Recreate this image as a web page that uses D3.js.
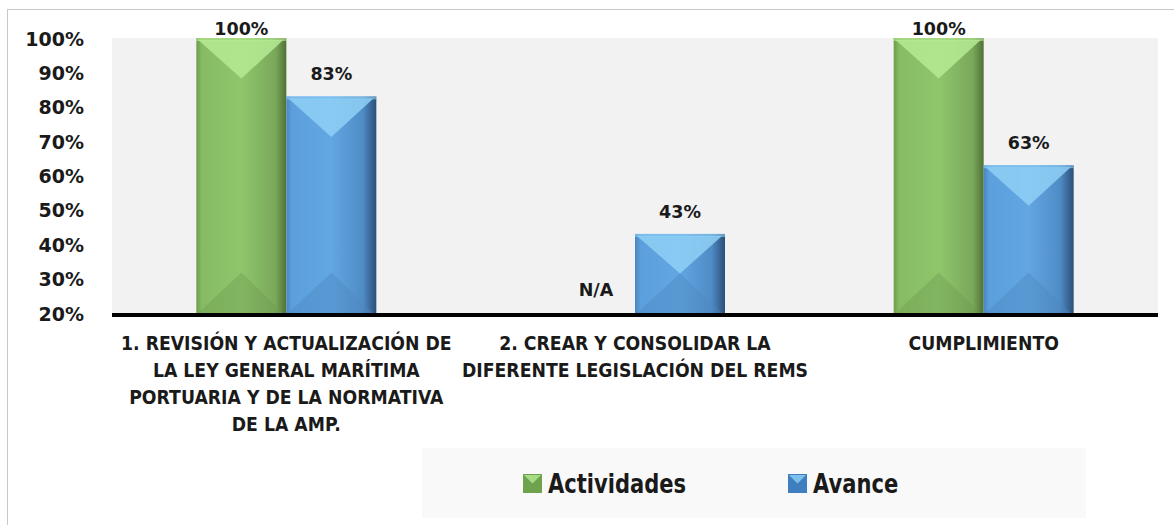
<!DOCTYPE html>
<html lang="es">
<head>
    <meta charset="UTF-8">
    <title>Cumplimiento</title>
    <script src="https://cdn.jsdelivr.net/npm/d3@7"></script>
    <style>
        body { margin: 0; background: #fff; }
        text { font-family: "DejaVu Sans", sans-serif; font-weight: bold; fill: #1a1a1a; }
    </style>
</head>
<body>
<div id="fig1"></div>
<script>
    var width = 1174;
    var height = 525;

    // data
    const categories = [
        ["1. REVISIÓN Y ACTUALIZACIÓN DE", "LA LEY GENERAL MARÍTIMA", "PORTUARIA Y DE LA NORMATIVA", "DE LA AMP."],
        ["2. CREAR Y CONSOLIDAR LA", "DIFERENTE LEGISLACIÓN DEL REMS"],
        ["CUMPLIMIENTO"]
    ];
    const series = ["Actividades", "Avance"];
    const actividades = [1.00, null, 1.00];
    const avance = [0.83, 0.43, 0.63];
    const yTicks = [0.2, 0.3, 0.4, 0.5, 0.6, 0.7, 0.8, 0.9, 1.0];
    const naLabel = "N/A";

    const margin = {top: 38, right: 16, bottom: 212, left: 112};

    var svg = d3.select("#fig1").append("svg")
        .attr("width", width)
        .attr("height", height);

    var defs = svg.append("defs");

    function sideGradient(id, stops) {
        var g = defs.append("linearGradient").attr("id", id)
            .attr("x1", "0%").attr("x2", "100%").attr("y1", "0%").attr("y2", "0%");
        stops.forEach(function (s) {
            g.append("stop").attr("offset", s[0]).attr("stop-color", s[1]);
        });
    }
    sideGradient("gGreen", [["0%", "#6e9c4e"], ["6%", "#86bb63"], ["50%", "#8fc66c"], ["88%", "#7aa85a"], ["100%", "#4f7136"]]);
    sideGradient("gBlue", [["0%", "#4a86c0"], ["6%", "#5b9fdc"], ["50%", "#62a6e2"], ["85%", "#4f8cc6"], ["100%", "#2c4f78"]]);

    const look = {
        Actividades: {fill: "url(#gGreen)", top: "#b6ea93", bottom: "#6f9c50", swatch: "#6ea24c"},
        Avance: {fill: "url(#gBlue)", top: "#8fd0f6", bottom: "#4d86bd", swatch: "#3f7fbf"}
    };

    // outer frame
    svg.append("rect")
        .attr("x", 7.5).attr("y", 9.5)
        .attr("width", width).attr("height", height)
        .attr("fill", "none")
        .attr("stroke", "#c8c8c8");

    var x0 = d3.scaleBand()
        .domain(d3.range(categories.length))
        .range([margin.left, width - margin.right]);

    var x1 = d3.scaleBand()
        .domain(series)
        .range([0, x0.bandwidth()])
        .paddingInner(0)
        .paddingOuter(0.937);

    var y = d3.scaleLinear()
        .domain([0.2, 1.0])
        .range([height - margin.bottom, margin.top]);

    // plot area
    svg.append("rect")
        .attr("x", margin.left).attr("y", margin.top)
        .attr("width", width - margin.right - margin.left)
        .attr("height", y(0.2) - margin.top)
        .attr("fill", "#f2f2f2");

    var yAxis = svg.append("g")
        .attr("transform", "translate(" + 84 + ",0)")
        .call(d3.axisLeft(y).tickValues(yTicks).tickSize(0).tickPadding(0).tickFormat(d3.format(".0%")));
    yAxis.select(".domain").remove();
    yAxis.selectAll("text")
        .attr("font-size", 19)
        .attr("font-family", null)
        .attr("fill", null)
        .attr("dy", "0.37em");

    var rows = [];
    categories.forEach(function (c, i) {
        rows.push({i: i, s: "Actividades", v: actividades[i]});
        rows.push({i: i, s: "Avance", v: avance[i]});
    });

    var bars = svg.append("g");
    rows.filter(function (d) { return d.v != null; }).forEach(function (d) {
        var bx = x0(d.i) + x1(d.s);
        var bw = x1.bandwidth();
        var top = y(d.v);
        var bot = y(0.2);
        var g = bars.append("g");
        g.append("rect")
            .attr("x", bx).attr("y", top)
            .attr("width", bw).attr("height", bot - top)
            .attr("fill", look[d.s].fill);
        var tri = Math.min(bw / 2 * 0.9, (bot - top) / 2);
        g.append("path")
            .attr("d", "M" + (bx + 2) + "," + (top + 2) + "L" + (bx + bw - 3) + "," + (top + 2) +
                "L" + (bx + bw / 2) + "," + (top + tri) + "Z")
            .attr("fill", look[d.s].top)
            .attr("opacity", 0.85);
        g.append("path")
            .attr("d", "M" + (bx + 2) + "," + bot + "L" + (bx + bw - 3) + "," + bot +
                "L" + (bx + bw / 2) + "," + (bot - tri) + "Z")
            .attr("fill", look[d.s].bottom)
            .attr("opacity", 0.4);
        g.append("rect")
            .attr("x", bx).attr("y", top)
            .attr("width", bw).attr("height", 3)
            .attr("fill", look[d.s].top)
            .attr("opacity", 0.6);

        svg.append("text")
            .attr("x", bx + bw / 2)
            .attr("y", Math.max(top - 16, 35))
            .attr("text-anchor", "middle")
            .attr("font-size", 17.5)
            .text(d3.format(".0%")(d.v));
    });

    // N/A where a value is missing
    rows.filter(function (d) { return d.v == null; }).forEach(function (d) {
        svg.append("text")
            .attr("x", x0(d.i) + x1(d.s) + x1.bandwidth() / 2 + 6)
            .attr("y", y(0.2) - 17)
            .attr("text-anchor", "middle")
            .attr("font-size", 17.5)
            .text(naLabel);
    });

    // base axis line
    svg.append("rect")
        .attr("x", margin.left).attr("y", y(0.2))
        .attr("width", width - margin.right - margin.left)
        .attr("height", 4)
        .attr("fill", "#000");

    // category labels (slightly condensed, like the original font)
    categories.forEach(function (lines, i) {
        var cx = x0(i) + x0.bandwidth() / 2;
        lines.forEach(function (l, k) {
            svg.append("text")
                .attr("transform", "translate(" + cx + "," + (350 + k * 27) + ") scale(0.91,1)")
                .attr("text-anchor", "middle")
                .attr("font-size", 19)
                .text(l);
        });
    });

    // legend
    svg.append("rect")
        .attr("x", 422).attr("y", 448)
        .attr("width", 664).attr("height", 70)
        .attr("fill", "#f9f9f9");

    var legendX = [523, 788];
    series.forEach(function (s, i) {
        var lg = svg.append("g").attr("transform", "translate(" + legendX[i] + ",474)");
        lg.append("rect").attr("width", 19).attr("height", 19).attr("fill", look[s].swatch);
        lg.append("path").attr("d", "M1,1L18,1L9.5,9.5Z").attr("fill", look[s].top).attr("opacity", 0.8);
        lg.append("text")
            .attr("transform", "translate(25,19) scale(0.78,1)")
            .attr("font-size", 27)
            .text(s);
    });
</script>
</body>
</html>
